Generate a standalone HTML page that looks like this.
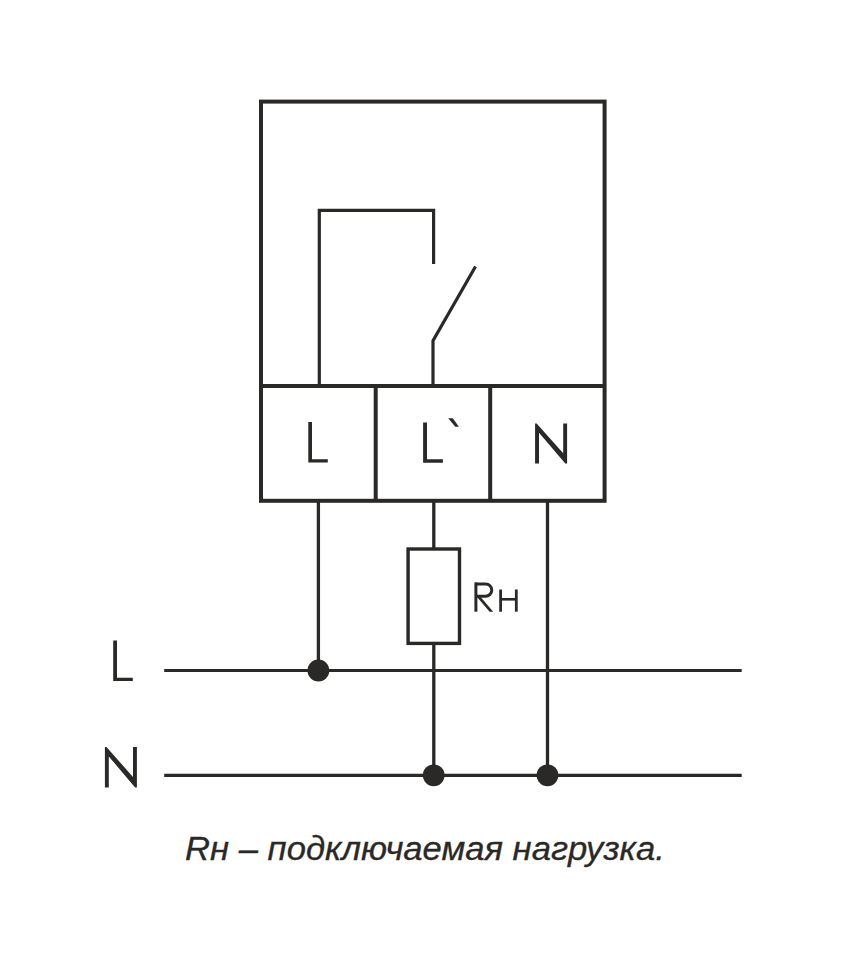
<!DOCTYPE html>
<html><head><meta charset="utf-8">
<style>
html,body{margin:0;padding:0;background:#fff;}
body{width:847px;height:970px;overflow:hidden;position:relative;}
svg{position:absolute;left:0;top:0;}
</style></head><body>
<svg width="847" height="970" viewBox="0 0 847 970">
<g fill="none" stroke="#2a2927" stroke-linecap="butt" stroke-linejoin="miter">
  <!-- outer box -->
  <rect x="261" y="101.6" width="343.6" height="399.2" stroke-width="4"/>
  <line x1="261" y1="386" x2="604.6" y2="386" stroke-width="4"/>
  <line x1="375.7" y1="386" x2="375.7" y2="500.8" stroke-width="4"/>
  <line x1="490.2" y1="386" x2="490.2" y2="500.8" stroke-width="4"/>
  <!-- inner loop -->
  <polyline points="319.3,386 319.3,210.3 433.6,210.3 433.6,264" stroke-width="3.2"/>
  <polyline points="475.5,266.5 433,340.6 433,386" stroke-width="3.2"/>
  <!-- wires -->
  <line x1="318.4" y1="500.8" x2="318.4" y2="670.5" stroke-width="3.3"/>
  <line x1="433.8" y1="500.8" x2="433.8" y2="549" stroke-width="3.3"/>
  <line x1="433.8" y1="643.4" x2="433.8" y2="775.3" stroke-width="3.3"/>
  <line x1="547.5" y1="500.8" x2="547.5" y2="775.3" stroke-width="3.3"/>
  <rect x="408.1" y="549" width="51.4" height="94.4" stroke-width="3.4"/>
  <line x1="164.2" y1="670.5" x2="741.7" y2="670.5" stroke-width="3.2"/>
  <line x1="164.2" y1="775.3" x2="741.7" y2="775.3" stroke-width="3.2"/>
  <!-- R label -->
  <line x1="475.9" y1="582.4" x2="475.9" y2="611.7" stroke-width="3"/>
  <path d="M475.9,583.9 H485.65 A6.15,6.15 0 0 1 485.65,596.2 H475.9" stroke-width="3"/>
  
  <line x1="500.6" y1="589.5" x2="500.6" y2="611.7" stroke-width="2.8"/>
  <line x1="516.3" y1="589.5" x2="516.3" y2="611.7" stroke-width="2.8"/>
  <line x1="500.6" y1="599.3" x2="516.3" y2="599.3" stroke-width="2.6"/>
</g>
<g fill="#2a2927">
  <circle cx="318.4" cy="670.5" r="10.9"/>
  <circle cx="433.7" cy="775.3" r="10.9"/>
  <circle cx="547.5" cy="775.3" r="10.9"/>
  <!-- terminal L -->
  <polygon points="308.3,422.1 312,422.1 312,459.2 327.8,459.2 327.8,462.6 308.3,462.6"/>
  <!-- terminal L` -->
  <polygon points="423.1,422.6 427,422.6 427,459.3 442.9,459.3 442.9,462.8 423.1,462.8"/>
  <polygon points="448.2,418.2 452.8,418.2 458.9,426.7 455.3,426.7"/>
  <!-- terminal N -->
  <polygon points="535.08,423.46 536.64,423.46 563.2,453.2 563.2,423.46 567.1,423.46 567.1,463.47 565.3,463.47 539,432.66 539,463.47 535.08,463.47"/>
  <polygon points="476.6,596.5 480.2,596.5 493.2,611.7 489.6,611.7"/>
  <!-- left L -->
  <polygon points="113.2,640.6 117,640.6 117,677.7 132.8,677.7 132.8,681.1 113.2,681.1"/>
  <!-- left N -->
  <polygon points="104.9,747.1 106.46,747.1 133.0,776.9 133.0,747.1 136.9,747.1 136.9,787.5 135.1,787.5 108.8,756.4 108.8,787.5 104.9,787.5"/>
</g>
<text x="0" y="0" transform="translate(185,860) scale(1.019,1)" font-family="Liberation Sans" font-style="italic" font-size="34" fill="#2a2927" stroke="#2a2927" stroke-width="0.3">Rн – подключаемая нагрузка.</text>
</svg>
</body></html>
